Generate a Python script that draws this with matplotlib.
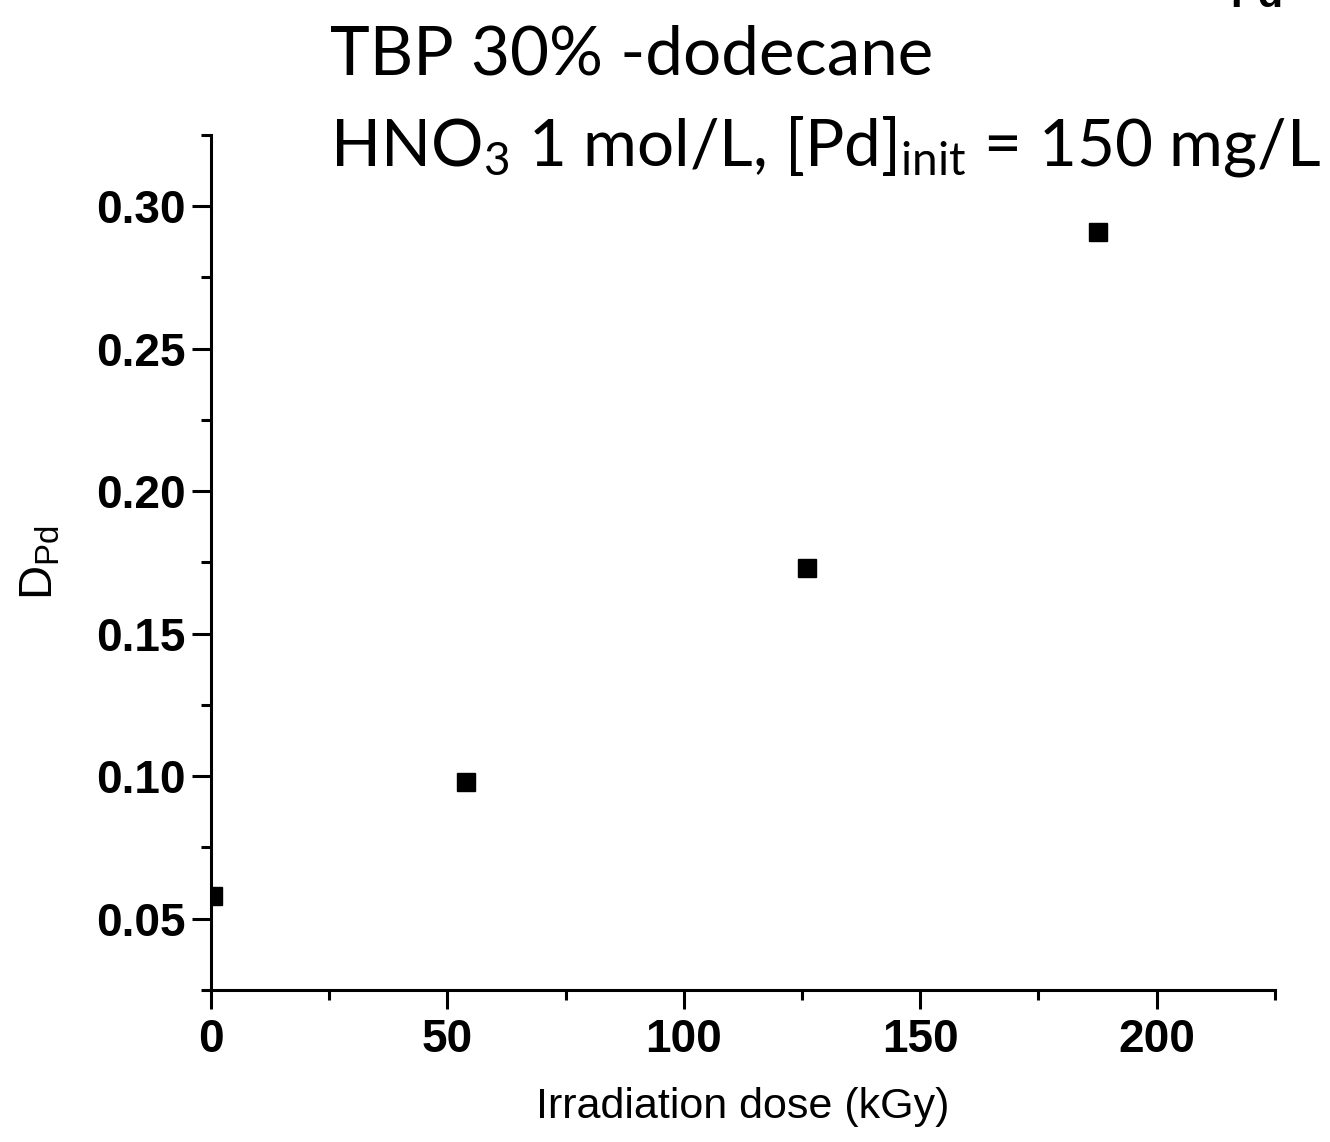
import matplotlib
matplotlib.use("Agg")
import matplotlib.pyplot as plt
from matplotlib.ticker import MultipleLocator

# data
dose = [0.5, 54, 126, 187.5]
d_pd = [0.058, 0.098, 0.173, 0.291]

xticks = [0, 50, 100, 150, 200]
yticks = [0.05, 0.10, 0.15, 0.20, 0.25, 0.30]

plt.rcParams['font.family'] = ['Liberation Sans', 'DejaVu Sans']
plt.rcParams['mathtext.default'] = 'regular'

fig = plt.figure(figsize=(13.3, 11.42), dpi=100)
ax = fig.add_axes([0.1586, 0.1331, 0.8, 0.7487])

ax.plot(dose, d_pd, 's', color='black', markersize=13, clip_on=True, zorder=3)

ax.set_xlim(0, 225)
ax.set_ylim(0.025, 0.325)
ax.set_xticks(xticks)
ax.set_yticks(yticks)
ax.set_xticklabels([str(t) for t in xticks])
ax.set_yticklabels(["%.2f" % t for t in yticks])
ax.xaxis.set_minor_locator(MultipleLocator(25))
ax.yaxis.set_minor_locator(MultipleLocator(0.025))

for s in ['top', 'right']:
    ax.spines[s].set_visible(False)
for s in ['left', 'bottom']:
    ax.spines[s].set_linewidth(2.2)

ax.tick_params(which='major', direction='out', length=14, width=2.2,
               labelsize=33, pad=6)
ax.tick_params(which='minor', direction='out', length=7, width=2.2)
ax.tick_params(axis='y', pad=4)
for lab in ax.get_xticklabels() + ax.get_yticklabels():
    lab.set_fontweight('bold')

ax.set_xlabel("Irradiation dose (kGy)", fontsize=31, labelpad=18)
ax.set_ylabel("D$_{Pd}$", fontsize=34, labelpad=24)

title_font = ['Lato', 'DejaVu Sans']
fig.text(0.248, 0.935, "TBP 30% -dodecane", fontsize=48.5, family=title_font,
         va='baseline')
fig.text(0.248, 0.855, "HNO$_3$ 1 mol/L, [Pd]$_{init}$ = 150 mg/L",
         fontsize=47.2, family=title_font, va='baseline')

# cut-off text at the very top right of the original image
fig.text(0.925, 0.994, "Pd", fontsize=30, fontweight='bold', va='baseline')

fig.savefig("out.png", dpi=100)
